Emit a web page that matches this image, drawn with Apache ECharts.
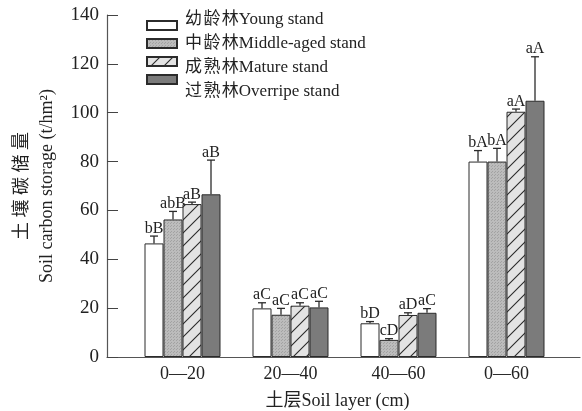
<!DOCTYPE html>
<html>
<head>
<meta charset="utf-8">
<script src="https://cdn.jsdelivr.net/npm/echarts@6/dist/echarts.min.js"></script>
<style>html,body{margin:0;padding:0;background:#fff}#c{width:582px;height:411px}</style>
</head>
<body>
<div id="c"></div>
<script>
const categories = ['0—20', '20—40', '40—60', '0—60'];
const seriesNames = ['幼\u200A龄\u200A林Young stand', '中\u200A龄\u200A林Middle-aged stand', '成\u200A熟\u200A林Mature stand', '过\u200A熟\u200A林Overripe stand'];
const young = [46.5, 19.9, 13.8, 80.0];
const youngErr = [3.0, 2.3, 0.7, 4.5];
const youngSig = ['bB', 'aC', 'bD', 'bA'];
const middle = [56.3, 17.3, 7.0, 80.0];
const middleErr = [3.3, 2.6, 0.5, 5.4];
const middleSig = ['abB', 'aC', 'cD', 'bA'];
const mature = [62.6, 21.0, 17.2, 100.4];
const matureErr = [0.8, 1.2, 0.9, 1.1];
const matureSig = ['aB', 'aC', 'aD', 'aA'];
const overripe = [66.6, 20.3, 18.1, 104.9];
const overripeErr = [14.0, 2.5, 1.7, 18.0];
const overripeSig = ['aB', 'aC', 'aC', 'aA'];
const yTicks = [0, 20, 40, 60, 80, 100, 120, 140];

const FONT = "'Liberation Serif', 'Noto Sans CJK SC', serif";
const BAR_W = 19;

function hatch() {
  const s = 13, c = document.createElement('canvas');
  c.width = s; c.height = s;
  const g = c.getContext('2d');
  g.fillStyle = '#e3e3e3'; g.fillRect(0, 0, s, s);
  g.strokeStyle = '#2a2a2a'; g.lineWidth = 1.1;
  g.beginPath();
  g.moveTo(-2, s + 2); g.lineTo(s + 2, -2);
  g.moveTo(-2, 2); g.lineTo(2, -2);
  g.moveTo(s - 2, s + 2); g.lineTo(s + 2, s - 2);
  g.stroke();
  return c;
}
function stipple() {
  const c = document.createElement('canvas');
  c.width = 3; c.height = 3;
  const g = c.getContext('2d');
  g.fillStyle = '#bcbcbc'; g.fillRect(0, 0, 3, 3);
  g.fillStyle = '#a2a2a2'; g.fillRect(0, 0, 1, 1); g.fillRect(2, 1, 1, 1);
  return c;
}

const vals = [young, middle, mature, overripe];
const errs = [youngErr, middleErr, matureErr, overripeErr];
const sigs = [youngSig, middleSig, matureSig, overripeSig];
const fills = ['#ffffff', {image: stipple(), repeat: 'repeat'}, {image: hatch(), repeat: 'repeat'}, '#7b7b7b'];

const errData = [];
for (let s = 0; s < 4; s++) for (let i = 0; i < 4; i++) errData.push([i, s, vals[s][i], errs[s][i], sigs[s][i]]);

const barSeries = seriesNames.map((n, s) => ({
  name: n, type: 'bar', xAxisIndex: 0, yAxisIndex: 0,
  data: vals[s], barWidth: BAR_W, barGap: '0%',
  itemStyle: {color: fills[s], borderColor: '#2b2b2b', borderWidth: 1},
  emphasis: {disabled: true}
}));

const chart = echarts.init(document.getElementById('c'), null, {renderer: 'canvas'});
chart.setOption({
  animation: false,
  backgroundColor: '#fff',
  textStyle: {fontFamily: FONT},
  grid: [
    {left: 128.5, right: 21.5, top: 15, bottom: 54, containLabel: false, outerBoundsMode: 'none'},
    {left: 107, right: 2, top: 15, bottom: 54, containLabel: false, outerBoundsMode: 'none'}
  ],
  legend: [
    {data: seriesNames, orient: 'vertical', left: 146, top: 20, padding: 0, icon: 'rect',
     itemWidth: 30, itemHeight: 9, itemGap: 7,
     formatter: () => ' ', textStyle: {fontSize: 1}, selectedMode: false},
    {data: seriesNames, orient: 'vertical', left: 180, top: 11.5, padding: 0, icon: 'rect',
     itemWidth: 0, itemHeight: 0, itemGap: 7,
     textStyle: {fontSize: 17, color: '#222', fontFamily: FONT, lineHeight: 17}, selectedMode: false,
     itemStyle: {opacity: 0, borderWidth: 0}}
  ],
  xAxis: [
    {type: 'category', gridIndex: 0, data: categories,
     axisLine: {show: false}, axisTick: {show: false},
     axisLabel: {fontSize: 18, color: '#222', margin: 8, fontFamily: FONT},
     name: '土层Soil layer (cm)', nameLocation: 'middle', nameGap: 35,
     nameTextStyle: {fontSize: 18, color: '#222', fontFamily: FONT, padding: [0, 14, 0, 0]}},
    {type: 'value', gridIndex: 1, min: 0, max: 1,
     axisLine: {show: true, lineStyle: {color: '#555', width: 1.2}},
     axisTick: {show: false}, axisLabel: {show: false}, splitLine: {show: false}}
  ],
  yAxis: [
    {type: 'value', gridIndex: 0, min: yTicks[0], max: yTicks[yTicks.length - 1], interval: 20, show: false},
    {type: 'value', gridIndex: 1, min: yTicks[0], max: yTicks[yTicks.length - 1], interval: 20,
     axisLine: {show: true, lineStyle: {color: '#555', width: 1.2}},
     axisTick: {show: true, inside: true, length: 11, lineStyle: {color: '#444', width: 1}},
     axisLabel: {fontSize: 19, color: '#222', margin: 8, fontFamily: FONT},
     splitLine: {show: false},
     name: '土 壤 碳 储 量\nSoil carbon storage (t/hm²)', nameLocation: 'middle', nameRotate: 90, nameGap: 46,
     nameTextStyle: {fontSize: 18, color: '#222', fontFamily: FONT, lineHeight: 25}}
  ],
  series: barSeries.concat([{
    type: 'custom', xAxisIndex: 0, yAxisIndex: 0, silent: true,
    data: errData, encode: {x: 0, y: 2},
    renderItem: function (params, api) {
      const i = api.value(0), s = api.value(1), v = api.value(2), e = api.value(3);
      const sig = errData[params.dataIndex][4];
      const off = (s - 1.5) * BAR_W;
      const p0 = api.coord([i, v]);
      const p1 = api.coord([i, v + e]);
      const x = p0[0] + off;
      return {type: 'group', children: [
        {type: 'line', shape: {x1: x, y1: p0[1], x2: x, y2: p1[1]}, style: {stroke: '#2b2b2b', lineWidth: 1.3}},
        {type: 'line', shape: {x1: x - 4, y1: p1[1], x2: x + 4, y2: p1[1]}, style: {stroke: '#2b2b2b', lineWidth: 1.3}},
        {type: 'text', x: x, y: p1[1] + 0.5, style: {text: sig, fontSize: 16, fontFamily: FONT, fill: '#222', align: 'center', verticalAlign: 'bottom'}}
      ]};
    }
  }])
});
</script>
</body>
</html>
